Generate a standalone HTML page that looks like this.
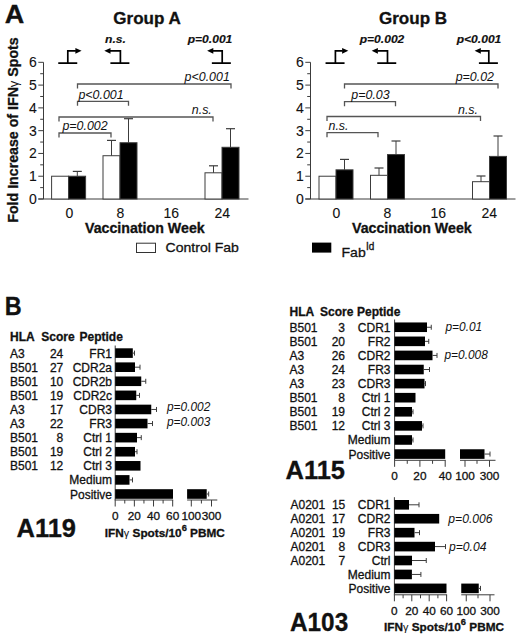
<!DOCTYPE html>
<html><head><meta charset="utf-8"><style>
html,body{margin:0;padding:0;background:#fff;}
svg{display:block;}
text{font-family:"Liberation Sans", sans-serif;fill:#111;stroke:#111;stroke-width:0.3px;}
</style></head><body>
<svg width="520" height="640" viewBox="0 0 520 640">
<rect width="520" height="640" fill="#fff"/>
<text transform="translate(4.80,22.60) scale(1.06,1)" font-size="25.5" font-weight="bold" font-style="normal" text-anchor="start" >A</text>
<text transform="translate(113.30,24.40) scale(1.065,1)" font-size="16" font-weight="bold" font-style="normal" text-anchor="start" >Group A</text>
<text transform="translate(379.00,24.40) scale(1.065,1)" font-size="16" font-weight="bold" font-style="normal" text-anchor="start" >Group B</text>
<text transform="translate(18.3,130) rotate(-90)" font-size="14.2" font-weight="bold" text-anchor="middle">Fold Increase of IFN<tspan font-weight="normal" font-size="13" style="stroke:none">&#947;</tspan> Spots</text>
<line x1="43.50" y1="62.32" x2="43.50" y2="199.00" stroke="#3c3c3c" stroke-width="1"/>
<line x1="38.30" y1="199.00" x2="43.50" y2="199.00" stroke="#3c3c3c" stroke-width="1"/>
<text x="36.70" y="203.90" font-size="14" font-weight="normal" font-style="normal" text-anchor="end" style="stroke-width:0.1px">0</text>
<line x1="40.20" y1="187.61" x2="43.50" y2="187.61" stroke="#3c3c3c" stroke-width="1"/>
<line x1="38.30" y1="176.22" x2="43.50" y2="176.22" stroke="#3c3c3c" stroke-width="1"/>
<text x="36.70" y="181.12" font-size="14" font-weight="normal" font-style="normal" text-anchor="end" style="stroke-width:0.1px">1</text>
<line x1="40.20" y1="164.83" x2="43.50" y2="164.83" stroke="#3c3c3c" stroke-width="1"/>
<line x1="38.30" y1="153.44" x2="43.50" y2="153.44" stroke="#3c3c3c" stroke-width="1"/>
<text x="36.70" y="158.34" font-size="14" font-weight="normal" font-style="normal" text-anchor="end" style="stroke-width:0.1px">2</text>
<line x1="40.20" y1="142.05" x2="43.50" y2="142.05" stroke="#3c3c3c" stroke-width="1"/>
<line x1="38.30" y1="130.66" x2="43.50" y2="130.66" stroke="#3c3c3c" stroke-width="1"/>
<text x="36.70" y="135.56" font-size="14" font-weight="normal" font-style="normal" text-anchor="end" style="stroke-width:0.1px">3</text>
<line x1="40.20" y1="119.27" x2="43.50" y2="119.27" stroke="#3c3c3c" stroke-width="1"/>
<line x1="38.30" y1="107.88" x2="43.50" y2="107.88" stroke="#3c3c3c" stroke-width="1"/>
<text x="36.70" y="112.78" font-size="14" font-weight="normal" font-style="normal" text-anchor="end" style="stroke-width:0.1px">4</text>
<line x1="40.20" y1="96.49" x2="43.50" y2="96.49" stroke="#3c3c3c" stroke-width="1"/>
<line x1="38.30" y1="85.10" x2="43.50" y2="85.10" stroke="#3c3c3c" stroke-width="1"/>
<text x="36.70" y="90.00" font-size="14" font-weight="normal" font-style="normal" text-anchor="end" style="stroke-width:0.1px">5</text>
<line x1="40.20" y1="73.71" x2="43.50" y2="73.71" stroke="#3c3c3c" stroke-width="1"/>
<line x1="38.30" y1="62.32" x2="43.50" y2="62.32" stroke="#3c3c3c" stroke-width="1"/>
<text x="36.70" y="67.22" font-size="14" font-weight="normal" font-style="normal" text-anchor="end" style="stroke-width:0.1px">6</text>
<line x1="38.30" y1="199.00" x2="248.50" y2="199.00" stroke="#3c3c3c" stroke-width="1"/>
<text x="69.30" y="217.80" font-size="14" font-weight="normal" font-style="normal" text-anchor="middle" style="stroke-width:0.1px">0</text>
<text x="120.30" y="217.80" font-size="14" font-weight="normal" font-style="normal" text-anchor="middle" style="stroke-width:0.1px">8</text>
<text x="171.30" y="217.80" font-size="14" font-weight="normal" font-style="normal" text-anchor="middle" style="stroke-width:0.1px">16</text>
<text x="222.30" y="217.80" font-size="14" font-weight="normal" font-style="normal" text-anchor="middle" style="stroke-width:0.1px">24</text>
<text transform="translate(144.80,232.80) scale(1.03,1)" font-size="13.8" font-weight="bold" font-style="normal" text-anchor="middle" >Vaccination Week</text>
<rect x="51.60" y="176.22" width="17.00" height="22.78" fill="#fff" stroke="#3c3c3c" stroke-width="1"/>
<rect x="68.60" y="176.22" width="17.00" height="22.78" fill="#000" stroke="#3c3c3c" stroke-width="1"/>
<rect x="103.00" y="155.72" width="17.00" height="43.28" fill="#fff" stroke="#3c3c3c" stroke-width="1"/>
<rect x="120.00" y="142.73" width="17.00" height="56.27" fill="#000" stroke="#3c3c3c" stroke-width="1"/>
<rect x="205.00" y="172.80" width="17.00" height="26.20" fill="#fff" stroke="#3c3c3c" stroke-width="1"/>
<rect x="222.00" y="147.29" width="17.00" height="51.71" fill="#000" stroke="#3c3c3c" stroke-width="1"/>
<line x1="77.30" y1="171.40" x2="77.30" y2="176.22" stroke="#3c3c3c" stroke-width="1"/>
<line x1="72.80" y1="171.40" x2="81.80" y2="171.40" stroke="#3c3c3c" stroke-width="1.2"/>
<line x1="111.50" y1="140.40" x2="111.50" y2="155.72" stroke="#3c3c3c" stroke-width="1"/>
<line x1="107.00" y1="140.40" x2="116.00" y2="140.40" stroke="#3c3c3c" stroke-width="1.2"/>
<line x1="128.50" y1="118.70" x2="128.50" y2="142.73" stroke="#3c3c3c" stroke-width="1"/>
<line x1="124.00" y1="118.70" x2="133.00" y2="118.70" stroke="#3c3c3c" stroke-width="1.2"/>
<line x1="213.50" y1="165.80" x2="213.50" y2="172.80" stroke="#3c3c3c" stroke-width="1"/>
<line x1="209.00" y1="165.80" x2="218.00" y2="165.80" stroke="#3c3c3c" stroke-width="1.2"/>
<line x1="230.50" y1="128.70" x2="230.50" y2="147.29" stroke="#3c3c3c" stroke-width="1"/>
<line x1="226.00" y1="128.70" x2="235.00" y2="128.70" stroke="#3c3c3c" stroke-width="1.2"/>
<path d="M77.50,88.50 V84.00 H231.00 V88.50" fill="none" stroke="#555" stroke-width="1.3"/>
<text transform="translate(229.80,81.20) scale(0.985,1)" font-size="12.6" font-weight="normal" font-style="italic" text-anchor="end" style="stroke:none">p&lt;0.001</text>
<path d="M77.50,105.80 V101.30 H128.50 V105.80" fill="none" stroke="#555" stroke-width="1.3"/>
<text transform="translate(101.00,98.50) scale(0.985,1)" font-size="12.6" font-weight="normal" font-style="italic" text-anchor="middle" style="stroke:none">p&lt;0.001</text>
<path d="M59.00,121.50 V117.00 H213.00 V121.50" fill="none" stroke="#555" stroke-width="1.3"/>
<text transform="translate(211.80,114.20) scale(0.985,1)" font-size="12.6" font-weight="normal" font-style="italic" text-anchor="end" style="stroke:none">n.s.</text>
<path d="M59.00,137.50 V133.00 H111.00 V137.50" fill="none" stroke="#555" stroke-width="1.3"/>
<text transform="translate(85.00,130.20) scale(0.985,1)" font-size="12.6" font-weight="normal" font-style="italic" text-anchor="middle" style="stroke:none">p=0.002</text>
<path d="M58.25,63.2 H77.25 M67.80,63.2 V50.8 H75.90" fill="none" stroke="#000" stroke-width="1.7"/>
<path d="M81.60,50.8 L75.40,47.9 L75.40,53.7 Z" fill="#000"/>
<path d="M110.40,63.2 H129.40 M120.40,63.2 V50.8 H110.00" fill="none" stroke="#000" stroke-width="1.7"/>
<path d="M104.30,50.8 L110.50,47.9 L110.50,53.7 Z" fill="#000"/>
<path d="M211.85,63.2 H230.85 M222.20,63.2 V50.8 H212.80" fill="none" stroke="#000" stroke-width="1.7"/>
<path d="M207.10,50.8 L213.30,47.9 L213.30,53.7 Z" fill="#000"/>
<text transform="translate(115.50,43.30) scale(1.05,1)" font-size="11.5" font-weight="bold" font-style="italic" text-anchor="middle" style="stroke-width:0.15px">n.s.</text>
<text transform="translate(210.00,43.30) scale(1.05,1)" font-size="11.5" font-weight="bold" font-style="italic" text-anchor="middle" style="stroke-width:0.15px">p=0.001</text>
<line x1="310.50" y1="62.32" x2="310.50" y2="199.00" stroke="#3c3c3c" stroke-width="1"/>
<line x1="305.30" y1="199.00" x2="310.50" y2="199.00" stroke="#3c3c3c" stroke-width="1"/>
<text x="303.70" y="203.90" font-size="14" font-weight="normal" font-style="normal" text-anchor="end" style="stroke-width:0.1px">0</text>
<line x1="307.20" y1="187.61" x2="310.50" y2="187.61" stroke="#3c3c3c" stroke-width="1"/>
<line x1="305.30" y1="176.22" x2="310.50" y2="176.22" stroke="#3c3c3c" stroke-width="1"/>
<text x="303.70" y="181.12" font-size="14" font-weight="normal" font-style="normal" text-anchor="end" style="stroke-width:0.1px">1</text>
<line x1="307.20" y1="164.83" x2="310.50" y2="164.83" stroke="#3c3c3c" stroke-width="1"/>
<line x1="305.30" y1="153.44" x2="310.50" y2="153.44" stroke="#3c3c3c" stroke-width="1"/>
<text x="303.70" y="158.34" font-size="14" font-weight="normal" font-style="normal" text-anchor="end" style="stroke-width:0.1px">2</text>
<line x1="307.20" y1="142.05" x2="310.50" y2="142.05" stroke="#3c3c3c" stroke-width="1"/>
<line x1="305.30" y1="130.66" x2="310.50" y2="130.66" stroke="#3c3c3c" stroke-width="1"/>
<text x="303.70" y="135.56" font-size="14" font-weight="normal" font-style="normal" text-anchor="end" style="stroke-width:0.1px">3</text>
<line x1="307.20" y1="119.27" x2="310.50" y2="119.27" stroke="#3c3c3c" stroke-width="1"/>
<line x1="305.30" y1="107.88" x2="310.50" y2="107.88" stroke="#3c3c3c" stroke-width="1"/>
<text x="303.70" y="112.78" font-size="14" font-weight="normal" font-style="normal" text-anchor="end" style="stroke-width:0.1px">4</text>
<line x1="307.20" y1="96.49" x2="310.50" y2="96.49" stroke="#3c3c3c" stroke-width="1"/>
<line x1="305.30" y1="85.10" x2="310.50" y2="85.10" stroke="#3c3c3c" stroke-width="1"/>
<text x="303.70" y="90.00" font-size="14" font-weight="normal" font-style="normal" text-anchor="end" style="stroke-width:0.1px">5</text>
<line x1="307.20" y1="73.71" x2="310.50" y2="73.71" stroke="#3c3c3c" stroke-width="1"/>
<line x1="305.30" y1="62.32" x2="310.50" y2="62.32" stroke="#3c3c3c" stroke-width="1"/>
<text x="303.70" y="67.22" font-size="14" font-weight="normal" font-style="normal" text-anchor="end" style="stroke-width:0.1px">6</text>
<line x1="305.30" y1="199.00" x2="515.50" y2="199.00" stroke="#3c3c3c" stroke-width="1"/>
<text x="336.30" y="217.80" font-size="14" font-weight="normal" font-style="normal" text-anchor="middle" style="stroke-width:0.1px">0</text>
<text x="387.30" y="217.80" font-size="14" font-weight="normal" font-style="normal" text-anchor="middle" style="stroke-width:0.1px">8</text>
<text x="438.30" y="217.80" font-size="14" font-weight="normal" font-style="normal" text-anchor="middle" style="stroke-width:0.1px">16</text>
<text x="489.30" y="217.80" font-size="14" font-weight="normal" font-style="normal" text-anchor="middle" style="stroke-width:0.1px">24</text>
<text transform="translate(411.80,232.80) scale(1.03,1)" font-size="13.8" font-weight="bold" font-style="normal" text-anchor="middle" >Vaccination Week</text>
<rect x="319.00" y="176.22" width="17.00" height="22.78" fill="#fff" stroke="#3c3c3c" stroke-width="1"/>
<rect x="336.00" y="169.84" width="17.00" height="29.16" fill="#000" stroke="#3c3c3c" stroke-width="1"/>
<rect x="370.50" y="175.31" width="17.00" height="23.69" fill="#fff" stroke="#3c3c3c" stroke-width="1"/>
<rect x="387.50" y="154.58" width="17.00" height="44.42" fill="#000" stroke="#3c3c3c" stroke-width="1"/>
<rect x="472.50" y="181.69" width="17.00" height="17.31" fill="#fff" stroke="#3c3c3c" stroke-width="1"/>
<rect x="489.50" y="156.40" width="17.00" height="42.60" fill="#000" stroke="#3c3c3c" stroke-width="1"/>
<line x1="344.50" y1="159.40" x2="344.50" y2="169.84" stroke="#3c3c3c" stroke-width="1"/>
<line x1="340.00" y1="159.40" x2="349.00" y2="159.40" stroke="#3c3c3c" stroke-width="1.2"/>
<line x1="379.00" y1="168.00" x2="379.00" y2="175.31" stroke="#3c3c3c" stroke-width="1"/>
<line x1="374.50" y1="168.00" x2="383.50" y2="168.00" stroke="#3c3c3c" stroke-width="1.2"/>
<line x1="396.00" y1="141.00" x2="396.00" y2="154.58" stroke="#3c3c3c" stroke-width="1"/>
<line x1="391.50" y1="141.00" x2="400.50" y2="141.00" stroke="#3c3c3c" stroke-width="1.2"/>
<line x1="481.00" y1="176.00" x2="481.00" y2="181.69" stroke="#3c3c3c" stroke-width="1"/>
<line x1="476.50" y1="176.00" x2="485.50" y2="176.00" stroke="#3c3c3c" stroke-width="1.2"/>
<line x1="498.00" y1="136.00" x2="498.00" y2="156.40" stroke="#3c3c3c" stroke-width="1"/>
<line x1="493.50" y1="136.00" x2="502.50" y2="136.00" stroke="#3c3c3c" stroke-width="1.2"/>
<path d="M344.50,88.50 V84.00 H498.00 V88.50" fill="none" stroke="#555" stroke-width="1.3"/>
<text transform="translate(494.00,81.20) scale(0.985,1)" font-size="12.6" font-weight="normal" font-style="italic" text-anchor="end" style="stroke:none">p=0.02</text>
<path d="M344.50,106.20 V101.70 H395.50 V106.20" fill="none" stroke="#555" stroke-width="1.3"/>
<text transform="translate(370.50,98.90) scale(0.985,1)" font-size="12.6" font-weight="normal" font-style="italic" text-anchor="middle" style="stroke:none">p=0.03</text>
<path d="M327.00,121.00 V116.50 H480.50 V121.00" fill="none" stroke="#555" stroke-width="1.3"/>
<text transform="translate(478.00,113.70) scale(0.985,1)" font-size="12.6" font-weight="normal" font-style="italic" text-anchor="end" style="stroke:none">n.s.</text>
<path d="M327.00,137.20 V132.70 H378.00 V137.20" fill="none" stroke="#555" stroke-width="1.3"/>
<text transform="translate(328.50,129.90) scale(0.985,1)" font-size="12.6" font-weight="normal" font-style="italic" text-anchor="start" style="stroke:none">n.s.</text>
<path d="M325.55,63.2 H344.55 M335.40,63.2 V50.8 H342.60" fill="none" stroke="#000" stroke-width="1.7"/>
<path d="M348.30,50.8 L342.10,47.9 L342.10,53.7 Z" fill="#000"/>
<path d="M377.25,63.2 H396.25 M387.50,63.2 V50.8 H377.40" fill="none" stroke="#000" stroke-width="1.7"/>
<path d="M371.70,50.8 L377.90,47.9 L377.90,53.7 Z" fill="#000"/>
<path d="M478.90,63.2 H497.90 M488.80,63.2 V50.8 H480.30" fill="none" stroke="#000" stroke-width="1.7"/>
<path d="M474.60,50.8 L480.80,47.9 L480.80,53.7 Z" fill="#000"/>
<text transform="translate(382.00,43.30) scale(1.05,1)" font-size="11.5" font-weight="bold" font-style="italic" text-anchor="middle" style="stroke-width:0.15px">p=0.002</text>
<text transform="translate(479.00,43.30) scale(1.05,1)" font-size="11.5" font-weight="bold" font-style="italic" text-anchor="middle" style="stroke-width:0.15px">p&lt;0.001</text>
<rect x="136.50" y="243.20" width="19.00" height="9.30" fill="#fff" stroke="#333" stroke-width="1"/>
<text transform="translate(165.60,252.00) scale(1.04,1)" font-size="13.5" font-weight="normal" font-style="normal" text-anchor="start" >Control Fab</text>
<rect x="312.00" y="242.60" width="19.30" height="10.00" fill="#000" stroke="none" stroke-width="1"/>
<text transform="translate(341.50,257.00) scale(1.04,1)" font-size="13.5" font-weight="normal" font-style="normal" text-anchor="start" >Fab</text>
<text x="366.00" y="250.30" font-size="10" font-weight="normal" font-style="normal" text-anchor="start" >Id</text>
<text transform="translate(4.70,314.80) scale(0.92,1)" font-size="25.5" font-weight="bold" font-style="normal" text-anchor="start" >B</text>
<text x="10.00" y="341.25" font-size="12" font-weight="bold" font-style="normal" text-anchor="start" >HLA</text>
<text x="41.25" y="341.25" font-size="12" font-weight="bold" font-style="normal" text-anchor="start" >Score</text>
<text x="79.50" y="341.25" font-size="12" font-weight="bold" font-style="normal" text-anchor="start" >Peptide</text>
<line x1="115.20" y1="345.50" x2="115.20" y2="500.00" stroke="#3c3c3c" stroke-width="1"/>
<text x="10.00" y="357.60" font-size="12" font-weight="normal" font-style="normal" text-anchor="start" >A3</text>
<text x="63.30" y="357.60" font-size="12" font-weight="normal" font-style="normal" text-anchor="end" >24</text>
<text x="112.00" y="357.60" font-size="12" font-weight="normal" font-style="normal" text-anchor="end" >FR1</text>
<rect x="115.20" y="348.30" width="17.60" height="9.60" fill="#000" stroke="none" stroke-width="1"/>
<line x1="132.80" y1="353.10" x2="134.50" y2="353.10" stroke="#3c3c3c" stroke-width="1"/>
<line x1="134.50" y1="350.60" x2="134.50" y2="355.60" stroke="#3c3c3c" stroke-width="1"/>
<text x="10.00" y="371.69" font-size="12" font-weight="normal" font-style="normal" text-anchor="start" >B501</text>
<text x="63.30" y="371.69" font-size="12" font-weight="normal" font-style="normal" text-anchor="end" >27</text>
<text x="112.00" y="371.69" font-size="12" font-weight="normal" font-style="normal" text-anchor="end" >CDR2a</text>
<rect x="115.20" y="362.39" width="19.80" height="9.60" fill="#000" stroke="none" stroke-width="1"/>
<line x1="135.00" y1="367.19" x2="140.00" y2="367.19" stroke="#3c3c3c" stroke-width="1"/>
<line x1="140.00" y1="364.69" x2="140.00" y2="369.69" stroke="#3c3c3c" stroke-width="1"/>
<text x="10.00" y="385.78" font-size="12" font-weight="normal" font-style="normal" text-anchor="start" >B501</text>
<text x="63.30" y="385.78" font-size="12" font-weight="normal" font-style="normal" text-anchor="end" >10</text>
<text x="112.00" y="385.78" font-size="12" font-weight="normal" font-style="normal" text-anchor="end" >CDR2b</text>
<rect x="115.20" y="376.48" width="26.05" height="9.60" fill="#000" stroke="none" stroke-width="1"/>
<line x1="141.25" y1="381.28" x2="145.75" y2="381.28" stroke="#3c3c3c" stroke-width="1"/>
<line x1="145.75" y1="378.78" x2="145.75" y2="383.78" stroke="#3c3c3c" stroke-width="1"/>
<text x="10.00" y="399.87" font-size="12" font-weight="normal" font-style="normal" text-anchor="start" >B501</text>
<text x="63.30" y="399.87" font-size="12" font-weight="normal" font-style="normal" text-anchor="end" >19</text>
<text x="112.00" y="399.87" font-size="12" font-weight="normal" font-style="normal" text-anchor="end" >CDR2c</text>
<rect x="115.20" y="390.57" width="21.05" height="9.60" fill="#000" stroke="none" stroke-width="1"/>
<line x1="136.25" y1="395.37" x2="139.50" y2="395.37" stroke="#3c3c3c" stroke-width="1"/>
<line x1="139.50" y1="392.87" x2="139.50" y2="397.87" stroke="#3c3c3c" stroke-width="1"/>
<text x="10.00" y="413.96" font-size="12" font-weight="normal" font-style="normal" text-anchor="start" >A3</text>
<text x="63.30" y="413.96" font-size="12" font-weight="normal" font-style="normal" text-anchor="end" >17</text>
<text x="112.00" y="413.96" font-size="12" font-weight="normal" font-style="normal" text-anchor="end" >CDR3</text>
<rect x="115.20" y="404.66" width="36.05" height="9.60" fill="#000" stroke="none" stroke-width="1"/>
<line x1="151.25" y1="409.46" x2="156.50" y2="409.46" stroke="#3c3c3c" stroke-width="1"/>
<line x1="156.50" y1="406.96" x2="156.50" y2="411.96" stroke="#3c3c3c" stroke-width="1"/>
<text x="10.00" y="428.05" font-size="12" font-weight="normal" font-style="normal" text-anchor="start" >A3</text>
<text x="63.30" y="428.05" font-size="12" font-weight="normal" font-style="normal" text-anchor="end" >22</text>
<text x="112.00" y="428.05" font-size="12" font-weight="normal" font-style="normal" text-anchor="end" >FR3</text>
<rect x="115.20" y="418.75" width="32.30" height="9.60" fill="#000" stroke="none" stroke-width="1"/>
<line x1="147.50" y1="423.55" x2="152.50" y2="423.55" stroke="#3c3c3c" stroke-width="1"/>
<line x1="152.50" y1="421.05" x2="152.50" y2="426.05" stroke="#3c3c3c" stroke-width="1"/>
<text x="10.00" y="442.14" font-size="12" font-weight="normal" font-style="normal" text-anchor="start" >B501</text>
<text x="63.30" y="442.14" font-size="12" font-weight="normal" font-style="normal" text-anchor="end" >8</text>
<text x="112.00" y="442.14" font-size="12" font-weight="normal" font-style="normal" text-anchor="end" >Ctrl 1</text>
<rect x="115.20" y="432.84" width="21.80" height="9.60" fill="#000" stroke="none" stroke-width="1"/>
<line x1="137.00" y1="437.64" x2="141.25" y2="437.64" stroke="#3c3c3c" stroke-width="1"/>
<line x1="141.25" y1="435.14" x2="141.25" y2="440.14" stroke="#3c3c3c" stroke-width="1"/>
<text x="10.00" y="456.23" font-size="12" font-weight="normal" font-style="normal" text-anchor="start" >B501</text>
<text x="63.30" y="456.23" font-size="12" font-weight="normal" font-style="normal" text-anchor="end" >19</text>
<text x="112.00" y="456.23" font-size="12" font-weight="normal" font-style="normal" text-anchor="end" >Ctrl 2</text>
<rect x="115.20" y="446.93" width="19.80" height="9.60" fill="#000" stroke="none" stroke-width="1"/>
<line x1="135.00" y1="451.73" x2="137.00" y2="451.73" stroke="#3c3c3c" stroke-width="1"/>
<line x1="137.00" y1="449.23" x2="137.00" y2="454.23" stroke="#3c3c3c" stroke-width="1"/>
<text x="10.00" y="470.32" font-size="12" font-weight="normal" font-style="normal" text-anchor="start" >B501</text>
<text x="63.30" y="470.32" font-size="12" font-weight="normal" font-style="normal" text-anchor="end" >12</text>
<text x="112.00" y="470.32" font-size="12" font-weight="normal" font-style="normal" text-anchor="end" >Ctrl 3</text>
<rect x="115.20" y="461.02" width="25.30" height="9.60" fill="#000" stroke="none" stroke-width="1"/>
<text x="112.00" y="484.41" font-size="12" font-weight="normal" font-style="normal" text-anchor="end" >Medium</text>
<rect x="115.20" y="475.11" width="14.30" height="9.60" fill="#000" stroke="none" stroke-width="1"/>
<line x1="129.50" y1="479.91" x2="132.50" y2="479.91" stroke="#3c3c3c" stroke-width="1"/>
<line x1="132.50" y1="477.41" x2="132.50" y2="482.41" stroke="#3c3c3c" stroke-width="1"/>
<text x="112.00" y="498.50" font-size="12" font-weight="normal" font-style="normal" text-anchor="end" >Positive</text>
<rect x="115.20" y="489.20" width="57.80" height="9.60" fill="#000" stroke="none" stroke-width="1"/>
<line x1="114.70" y1="500.00" x2="173.18" y2="500.00" stroke="#3c3c3c" stroke-width="1"/>
<line x1="115.20" y1="500.00" x2="115.20" y2="506.50" stroke="#3c3c3c" stroke-width="1"/>
<line x1="124.78" y1="500.00" x2="124.78" y2="503.50" stroke="#3c3c3c" stroke-width="1"/>
<line x1="134.36" y1="500.00" x2="134.36" y2="506.50" stroke="#3c3c3c" stroke-width="1"/>
<line x1="143.94" y1="500.00" x2="143.94" y2="503.50" stroke="#3c3c3c" stroke-width="1"/>
<line x1="153.52" y1="500.00" x2="153.52" y2="506.50" stroke="#3c3c3c" stroke-width="1"/>
<line x1="163.10" y1="500.00" x2="163.10" y2="503.50" stroke="#3c3c3c" stroke-width="1"/>
<line x1="172.68" y1="500.00" x2="172.68" y2="506.50" stroke="#3c3c3c" stroke-width="1"/>
<text x="115.20" y="519.50" font-size="11.8" font-weight="normal" font-style="normal" text-anchor="middle" >0</text>
<text x="134.36" y="519.50" font-size="11.8" font-weight="normal" font-style="normal" text-anchor="middle" >20</text>
<text x="153.52" y="519.50" font-size="11.8" font-weight="normal" font-style="normal" text-anchor="middle" >40</text>
<text x="172.68" y="519.50" font-size="11.8" font-weight="normal" font-style="normal" text-anchor="middle" >60</text>
<line x1="187.10" y1="500.00" x2="217.30" y2="500.00" stroke="#3c3c3c" stroke-width="1"/>
<line x1="191.30" y1="500.00" x2="191.30" y2="506.50" stroke="#3c3c3c" stroke-width="1"/>
<line x1="201.40" y1="500.00" x2="201.40" y2="503.50" stroke="#3c3c3c" stroke-width="1"/>
<line x1="211.50" y1="500.00" x2="211.50" y2="506.50" stroke="#3c3c3c" stroke-width="1"/>
<text x="191.30" y="519.50" font-size="11.8" font-weight="normal" font-style="normal" text-anchor="middle" >100</text>
<text x="211.50" y="519.50" font-size="11.8" font-weight="normal" font-style="normal" text-anchor="middle" >300</text>
<rect x="187.10" y="489.20" width="19.60" height="9.60" fill="#000" stroke="none" stroke-width="1"/>
<line x1="206.70" y1="494.00" x2="208.70" y2="494.00" stroke="#3c3c3c" stroke-width="1"/>
<line x1="208.70" y1="491.50" x2="208.70" y2="496.50" stroke="#3c3c3c" stroke-width="1"/>
<text transform="translate(167.00,411.30) scale(0.93,1)" font-size="12.8" font-weight="normal" font-style="italic" text-anchor="start" style="stroke:none">p=0.002</text>
<text transform="translate(167.00,426.00) scale(0.93,1)" font-size="12.8" font-weight="normal" font-style="italic" text-anchor="start" style="stroke:none">p=0.003</text>
<text x="16.50" y="536.60" font-size="25.5" font-weight="bold" font-style="normal" text-anchor="start" >A119</text>
<text transform="translate(104.80,536.60) scale(1.035,1)" font-size="11.4" font-weight="bold" font-style="normal" text-anchor="start" >IFN<tspan font-weight="normal" font-size="10.5" style="stroke:none">&#947;</tspan> Spots/10<tspan font-size="9" dy="-5.2">6</tspan><tspan dy="5.2"> PBMC</tspan></text>
<text x="289.50" y="315.50" font-size="12" font-weight="bold" font-style="normal" text-anchor="start" >HLA</text>
<text x="320.00" y="315.50" font-size="12" font-weight="bold" font-style="normal" text-anchor="start" >Score</text>
<text x="357.00" y="315.50" font-size="12" font-weight="bold" font-style="normal" text-anchor="start" >Peptide</text>
<line x1="394.60" y1="319.50" x2="394.60" y2="460.30" stroke="#3c3c3c" stroke-width="1"/>
<text x="289.50" y="331.75" font-size="12" font-weight="normal" font-style="normal" text-anchor="start" >B501</text>
<text x="345.00" y="331.75" font-size="12" font-weight="normal" font-style="normal" text-anchor="end" >3</text>
<text x="390.50" y="331.75" font-size="12" font-weight="normal" font-style="normal" text-anchor="end" >CDR1</text>
<rect x="394.60" y="322.45" width="32.40" height="9.60" fill="#000" stroke="none" stroke-width="1"/>
<line x1="427.00" y1="327.25" x2="431.25" y2="327.25" stroke="#3c3c3c" stroke-width="1"/>
<line x1="431.25" y1="324.75" x2="431.25" y2="329.75" stroke="#3c3c3c" stroke-width="1"/>
<text x="289.50" y="345.84" font-size="12" font-weight="normal" font-style="normal" text-anchor="start" >B501</text>
<text x="345.00" y="345.84" font-size="12" font-weight="normal" font-style="normal" text-anchor="end" >20</text>
<text x="390.50" y="345.84" font-size="12" font-weight="normal" font-style="normal" text-anchor="end" >FR2</text>
<rect x="394.60" y="336.54" width="30.40" height="9.60" fill="#000" stroke="none" stroke-width="1"/>
<line x1="425.00" y1="341.34" x2="428.75" y2="341.34" stroke="#3c3c3c" stroke-width="1"/>
<line x1="428.75" y1="338.84" x2="428.75" y2="343.84" stroke="#3c3c3c" stroke-width="1"/>
<text x="289.50" y="359.93" font-size="12" font-weight="normal" font-style="normal" text-anchor="start" >A3</text>
<text x="345.00" y="359.93" font-size="12" font-weight="normal" font-style="normal" text-anchor="end" >26</text>
<text x="390.50" y="359.93" font-size="12" font-weight="normal" font-style="normal" text-anchor="end" >CDR2</text>
<rect x="394.60" y="350.63" width="37.90" height="9.60" fill="#000" stroke="none" stroke-width="1"/>
<line x1="432.50" y1="355.43" x2="437.00" y2="355.43" stroke="#3c3c3c" stroke-width="1"/>
<line x1="437.00" y1="352.93" x2="437.00" y2="357.93" stroke="#3c3c3c" stroke-width="1"/>
<text x="289.50" y="374.02" font-size="12" font-weight="normal" font-style="normal" text-anchor="start" >A3</text>
<text x="345.00" y="374.02" font-size="12" font-weight="normal" font-style="normal" text-anchor="end" >24</text>
<text x="390.50" y="374.02" font-size="12" font-weight="normal" font-style="normal" text-anchor="end" >FR3</text>
<rect x="394.60" y="364.72" width="29.15" height="9.60" fill="#000" stroke="none" stroke-width="1"/>
<line x1="423.75" y1="369.52" x2="429.50" y2="369.52" stroke="#3c3c3c" stroke-width="1"/>
<line x1="429.50" y1="367.02" x2="429.50" y2="372.02" stroke="#3c3c3c" stroke-width="1"/>
<text x="289.50" y="388.11" font-size="12" font-weight="normal" font-style="normal" text-anchor="start" >A3</text>
<text x="345.00" y="388.11" font-size="12" font-weight="normal" font-style="normal" text-anchor="end" >23</text>
<text x="390.50" y="388.11" font-size="12" font-weight="normal" font-style="normal" text-anchor="end" >CDR3</text>
<rect x="394.60" y="378.81" width="29.90" height="9.60" fill="#000" stroke="none" stroke-width="1"/>
<line x1="424.50" y1="383.61" x2="425.50" y2="383.61" stroke="#3c3c3c" stroke-width="1"/>
<line x1="425.50" y1="381.11" x2="425.50" y2="386.11" stroke="#3c3c3c" stroke-width="1"/>
<text x="289.50" y="402.20" font-size="12" font-weight="normal" font-style="normal" text-anchor="start" >B501</text>
<text x="345.00" y="402.20" font-size="12" font-weight="normal" font-style="normal" text-anchor="end" >8</text>
<text x="390.50" y="402.20" font-size="12" font-weight="normal" font-style="normal" text-anchor="end" >Ctrl 1</text>
<rect x="394.60" y="392.90" width="20.90" height="9.60" fill="#000" stroke="none" stroke-width="1"/>
<text x="289.50" y="416.29" font-size="12" font-weight="normal" font-style="normal" text-anchor="start" >B501</text>
<text x="345.00" y="416.29" font-size="12" font-weight="normal" font-style="normal" text-anchor="end" >19</text>
<text x="390.50" y="416.29" font-size="12" font-weight="normal" font-style="normal" text-anchor="end" >Ctrl 2</text>
<rect x="394.60" y="406.99" width="17.40" height="9.60" fill="#000" stroke="none" stroke-width="1"/>
<line x1="412.00" y1="411.79" x2="413.00" y2="411.79" stroke="#3c3c3c" stroke-width="1"/>
<line x1="413.00" y1="409.29" x2="413.00" y2="414.29" stroke="#3c3c3c" stroke-width="1"/>
<text x="289.50" y="430.38" font-size="12" font-weight="normal" font-style="normal" text-anchor="start" >B501</text>
<text x="345.00" y="430.38" font-size="12" font-weight="normal" font-style="normal" text-anchor="end" >12</text>
<text x="390.50" y="430.38" font-size="12" font-weight="normal" font-style="normal" text-anchor="end" >Ctrl 3</text>
<rect x="394.60" y="421.08" width="27.40" height="9.60" fill="#000" stroke="none" stroke-width="1"/>
<line x1="422.00" y1="425.88" x2="423.00" y2="425.88" stroke="#3c3c3c" stroke-width="1"/>
<line x1="423.00" y1="423.38" x2="423.00" y2="428.38" stroke="#3c3c3c" stroke-width="1"/>
<text x="390.50" y="444.47" font-size="12" font-weight="normal" font-style="normal" text-anchor="end" >Medium</text>
<rect x="394.60" y="435.17" width="17.40" height="9.60" fill="#000" stroke="none" stroke-width="1"/>
<line x1="412.00" y1="439.97" x2="413.00" y2="439.97" stroke="#3c3c3c" stroke-width="1"/>
<line x1="413.00" y1="437.47" x2="413.00" y2="442.47" stroke="#3c3c3c" stroke-width="1"/>
<text x="390.50" y="458.56" font-size="12" font-weight="normal" font-style="normal" text-anchor="end" >Positive</text>
<rect x="394.60" y="449.26" width="50.60" height="9.60" fill="#000" stroke="none" stroke-width="1"/>
<line x1="394.10" y1="460.30" x2="445.70" y2="460.30" stroke="#3c3c3c" stroke-width="1"/>
<line x1="394.60" y1="460.30" x2="394.60" y2="466.80" stroke="#3c3c3c" stroke-width="1"/>
<line x1="407.25" y1="460.30" x2="407.25" y2="463.80" stroke="#3c3c3c" stroke-width="1"/>
<line x1="419.90" y1="460.30" x2="419.90" y2="466.80" stroke="#3c3c3c" stroke-width="1"/>
<line x1="432.55" y1="460.30" x2="432.55" y2="463.80" stroke="#3c3c3c" stroke-width="1"/>
<line x1="445.20" y1="460.30" x2="445.20" y2="466.80" stroke="#3c3c3c" stroke-width="1"/>
<text x="394.60" y="479.80" font-size="11.8" font-weight="normal" font-style="normal" text-anchor="middle" >0</text>
<text x="419.90" y="479.80" font-size="11.8" font-weight="normal" font-style="normal" text-anchor="middle" >20</text>
<text x="445.20" y="479.80" font-size="11.8" font-weight="normal" font-style="normal" text-anchor="middle" >40</text>
<line x1="460.00" y1="460.30" x2="495.50" y2="460.30" stroke="#3c3c3c" stroke-width="1"/>
<line x1="465.00" y1="460.30" x2="465.00" y2="466.80" stroke="#3c3c3c" stroke-width="1"/>
<line x1="477.00" y1="460.30" x2="477.00" y2="463.80" stroke="#3c3c3c" stroke-width="1"/>
<line x1="489.50" y1="460.30" x2="489.50" y2="466.80" stroke="#3c3c3c" stroke-width="1"/>
<text x="465.00" y="479.80" font-size="11.8" font-weight="normal" font-style="normal" text-anchor="middle" >100</text>
<text x="489.50" y="479.80" font-size="11.8" font-weight="normal" font-style="normal" text-anchor="middle" >300</text>
<rect x="460.00" y="449.26" width="24.50" height="9.60" fill="#000" stroke="none" stroke-width="1"/>
<line x1="484.50" y1="454.06" x2="490.00" y2="454.06" stroke="#3c3c3c" stroke-width="1"/>
<line x1="490.00" y1="451.56" x2="490.00" y2="456.56" stroke="#3c3c3c" stroke-width="1"/>
<text transform="translate(445.50,331.00) scale(0.93,1)" font-size="12.8" font-weight="normal" font-style="italic" text-anchor="start" style="stroke:none">p=0.01</text>
<text transform="translate(444.50,358.50) scale(0.93,1)" font-size="12.8" font-weight="normal" font-style="italic" text-anchor="start" style="stroke:none">p=0.008</text>
<text x="285.50" y="479.00" font-size="25.5" font-weight="bold" font-style="normal" text-anchor="start" >A115</text>
<line x1="394.40" y1="497.20" x2="394.40" y2="594.80" stroke="#3c3c3c" stroke-width="1"/>
<text x="290.50" y="509.30" font-size="12" font-weight="normal" font-style="normal" text-anchor="start" >A0201</text>
<text x="345.30" y="509.30" font-size="12" font-weight="normal" font-style="normal" text-anchor="end" >15</text>
<text x="390.50" y="509.30" font-size="12" font-weight="normal" font-style="normal" text-anchor="end" >CDR1</text>
<rect x="394.40" y="500.00" width="14.60" height="9.60" fill="#000" stroke="none" stroke-width="1"/>
<line x1="409.00" y1="504.80" x2="419.00" y2="504.80" stroke="#3c3c3c" stroke-width="1"/>
<line x1="419.00" y1="502.30" x2="419.00" y2="507.30" stroke="#3c3c3c" stroke-width="1"/>
<text x="290.50" y="523.23" font-size="12" font-weight="normal" font-style="normal" text-anchor="start" >A0201</text>
<text x="345.30" y="523.23" font-size="12" font-weight="normal" font-style="normal" text-anchor="end" >17</text>
<text x="390.50" y="523.23" font-size="12" font-weight="normal" font-style="normal" text-anchor="end" >CDR2</text>
<rect x="394.40" y="513.93" width="44.80" height="9.60" fill="#000" stroke="none" stroke-width="1"/>
<text x="290.50" y="537.16" font-size="12" font-weight="normal" font-style="normal" text-anchor="start" >A0201</text>
<text x="345.30" y="537.16" font-size="12" font-weight="normal" font-style="normal" text-anchor="end" >19</text>
<text x="390.50" y="537.16" font-size="12" font-weight="normal" font-style="normal" text-anchor="end" >FR3</text>
<rect x="394.40" y="527.86" width="20.10" height="9.60" fill="#000" stroke="none" stroke-width="1"/>
<line x1="414.50" y1="532.66" x2="419.50" y2="532.66" stroke="#3c3c3c" stroke-width="1"/>
<line x1="419.50" y1="530.16" x2="419.50" y2="535.16" stroke="#3c3c3c" stroke-width="1"/>
<text x="290.50" y="551.09" font-size="12" font-weight="normal" font-style="normal" text-anchor="start" >A0201</text>
<text x="345.30" y="551.09" font-size="12" font-weight="normal" font-style="normal" text-anchor="end" >8</text>
<text x="390.50" y="551.09" font-size="12" font-weight="normal" font-style="normal" text-anchor="end" >CDR3</text>
<rect x="394.40" y="541.79" width="40.60" height="9.60" fill="#000" stroke="none" stroke-width="1"/>
<line x1="435.00" y1="546.59" x2="445.50" y2="546.59" stroke="#3c3c3c" stroke-width="1"/>
<line x1="445.50" y1="544.09" x2="445.50" y2="549.09" stroke="#3c3c3c" stroke-width="1"/>
<text x="290.50" y="565.02" font-size="12" font-weight="normal" font-style="normal" text-anchor="start" >A0201</text>
<text x="345.30" y="565.02" font-size="12" font-weight="normal" font-style="normal" text-anchor="end" >7</text>
<text x="390.50" y="565.02" font-size="12" font-weight="normal" font-style="normal" text-anchor="end" >Ctrl</text>
<rect x="394.40" y="555.72" width="17.60" height="9.60" fill="#000" stroke="none" stroke-width="1"/>
<line x1="412.00" y1="560.52" x2="426.25" y2="560.52" stroke="#3c3c3c" stroke-width="1"/>
<line x1="426.25" y1="558.02" x2="426.25" y2="563.02" stroke="#3c3c3c" stroke-width="1"/>
<text x="390.50" y="578.95" font-size="12" font-weight="normal" font-style="normal" text-anchor="end" >Medium</text>
<rect x="394.40" y="569.65" width="17.50" height="9.60" fill="#000" stroke="none" stroke-width="1"/>
<line x1="411.90" y1="574.45" x2="420.90" y2="574.45" stroke="#3c3c3c" stroke-width="1"/>
<line x1="420.90" y1="571.95" x2="420.90" y2="576.95" stroke="#3c3c3c" stroke-width="1"/>
<text x="390.50" y="592.88" font-size="12" font-weight="normal" font-style="normal" text-anchor="end" >Positive</text>
<rect x="394.40" y="583.58" width="52.10" height="9.60" fill="#000" stroke="none" stroke-width="1"/>
<line x1="393.90" y1="594.80" x2="447.10" y2="594.80" stroke="#3c3c3c" stroke-width="1"/>
<line x1="394.40" y1="594.80" x2="394.40" y2="601.30" stroke="#3c3c3c" stroke-width="1"/>
<line x1="403.10" y1="594.80" x2="403.10" y2="598.30" stroke="#3c3c3c" stroke-width="1"/>
<line x1="411.80" y1="594.80" x2="411.80" y2="601.30" stroke="#3c3c3c" stroke-width="1"/>
<line x1="420.50" y1="594.80" x2="420.50" y2="598.30" stroke="#3c3c3c" stroke-width="1"/>
<line x1="429.20" y1="594.80" x2="429.20" y2="601.30" stroke="#3c3c3c" stroke-width="1"/>
<line x1="437.90" y1="594.80" x2="437.90" y2="598.30" stroke="#3c3c3c" stroke-width="1"/>
<line x1="446.60" y1="594.80" x2="446.60" y2="601.30" stroke="#3c3c3c" stroke-width="1"/>
<text x="394.40" y="614.80" font-size="11.8" font-weight="normal" font-style="normal" text-anchor="middle" >0</text>
<text x="411.80" y="614.80" font-size="11.8" font-weight="normal" font-style="normal" text-anchor="middle" >20</text>
<text x="429.20" y="614.80" font-size="11.8" font-weight="normal" font-style="normal" text-anchor="middle" >40</text>
<text x="446.60" y="614.80" font-size="11.8" font-weight="normal" font-style="normal" text-anchor="middle" >60</text>
<line x1="461.25" y1="594.80" x2="494.50" y2="594.80" stroke="#3c3c3c" stroke-width="1"/>
<line x1="466.25" y1="594.80" x2="466.25" y2="601.30" stroke="#3c3c3c" stroke-width="1"/>
<line x1="478.00" y1="594.80" x2="478.00" y2="598.30" stroke="#3c3c3c" stroke-width="1"/>
<line x1="490.00" y1="594.80" x2="490.00" y2="601.30" stroke="#3c3c3c" stroke-width="1"/>
<text x="466.25" y="614.80" font-size="11.8" font-weight="normal" font-style="normal" text-anchor="middle" >100</text>
<text x="490.00" y="614.80" font-size="11.8" font-weight="normal" font-style="normal" text-anchor="middle" >300</text>
<rect x="461.25" y="583.58" width="17.50" height="9.60" fill="#000" stroke="none" stroke-width="1"/>
<line x1="478.75" y1="588.38" x2="480.50" y2="588.38" stroke="#3c3c3c" stroke-width="1"/>
<line x1="480.50" y1="585.88" x2="480.50" y2="590.88" stroke="#3c3c3c" stroke-width="1"/>
<text transform="translate(448.30,523.20) scale(0.95,1)" font-size="12.8" font-weight="normal" font-style="italic" text-anchor="start" style="stroke:none">p=0.006</text>
<text transform="translate(449.00,550.70) scale(0.95,1)" font-size="12.8" font-weight="normal" font-style="italic" text-anchor="start" style="stroke:none">p=0.04</text>
<text transform="translate(290.00,631.00) scale(0.955,1)" font-size="25.5" font-weight="bold" font-style="normal" text-anchor="start" >A103</text>
<text transform="translate(384.00,630.60) scale(1.035,1)" font-size="11.4" font-weight="bold" font-style="normal" text-anchor="start" >IFN<tspan font-weight="normal" font-size="10.5" style="stroke:none">&#947;</tspan> Spots/10<tspan font-size="9" dy="-5.2">6</tspan><tspan dy="5.2"> PBMC</tspan></text>
</svg>
</body></html>
